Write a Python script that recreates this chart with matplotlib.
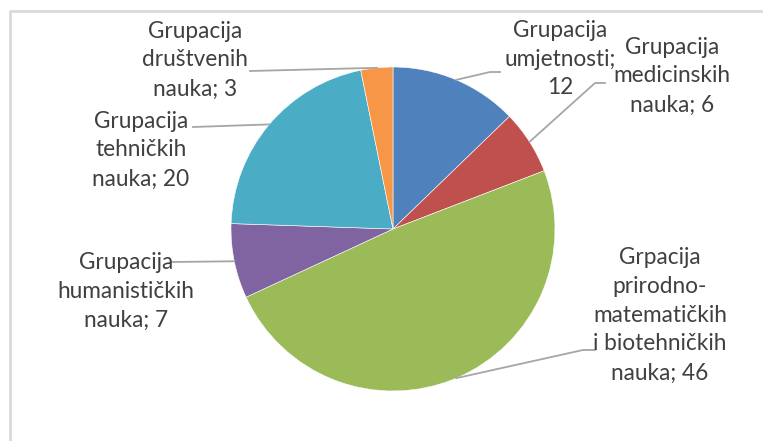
import matplotlib
matplotlib.use("Agg")
import matplotlib.pyplot as plt
import numpy as np

categories = [
    "Grupacija\numjetnosti;\n12",
    "Grupacija\nmedicinskih\nnauka; 6",
    "Grpacija\nprirodno-\nmatematičkih\ni biotehničkih\nnauka; 46",
    "Grupacija\nhumanističkih\nnauka; 7",
    "Grupacija\ntehničkih\nnauka; 20",
    "Grupacija\ndruštvenih\nnauka; 3",
]
values = [12, 6, 46, 7, 20, 3]
colors = ["#4F81BD", "#C0504D", "#9BBB59", "#8064A2", "#4BACC6", "#F79646"]

# layout (figure pixel coordinates, y from top)
W, H = 763, 441
cx, cy, R = 393, 229, 162
label_pos = [(560, 59), (672, 76), (660, 315), (126, 291), (141, 150), (195, 60)]
bend_pos = [(490, 72), (595, 83), (583, 350), (172, 262), (193, 127), (250, 71)]
end_pos = [(500, 72), (605, 83), (595, 350), (172, 262), (193, 127), (250, 71)]

fig = plt.figure(figsize=(W / 100, H / 100), dpi=100)
ax = fig.add_axes([0, 0, 1, 1])

wedges, _ = ax.pie(values, colors=colors, startangle=90, counterclock=False,
                   center=(cx, H - cy), radius=R,
                   wedgeprops=dict(linewidth=0.4, edgecolor="#FFFFFF"))

ax.set_xlim(0, W)
ax.set_ylim(0, H)
ax.set_aspect("equal")
ax.axis("off")

# chart frame
ax.plot([9.5, 9.5, W + 5], [-5, H - 10.5, H - 10.5], color="#D9D9D9", lw=2, solid_capstyle="butt")

total = sum(values)
cum = np.cumsum([0] + values)
for i, lab in enumerate(categories):
    mid = 90 - (cum[i] + values[i] / 2) / total * 360
    ex = cx + R * np.cos(np.radians(mid))
    ey = cy - R * np.sin(np.radians(mid))
    bx, by = bend_pos[i]
    tx, ty = end_pos[i]
    ax.plot([ex, bx, tx], [H - ey, H - by, H - ty], color="#A6A6A6", lw=1.3, zorder=1)
    lx, ly = label_pos[i]
    ax.text(lx, H - ly, lab, ha="center", va="center", fontsize=16.3,
            family="Lato", color="#404040", linespacing=1.47)

fig.savefig("out.png", dpi=100)
